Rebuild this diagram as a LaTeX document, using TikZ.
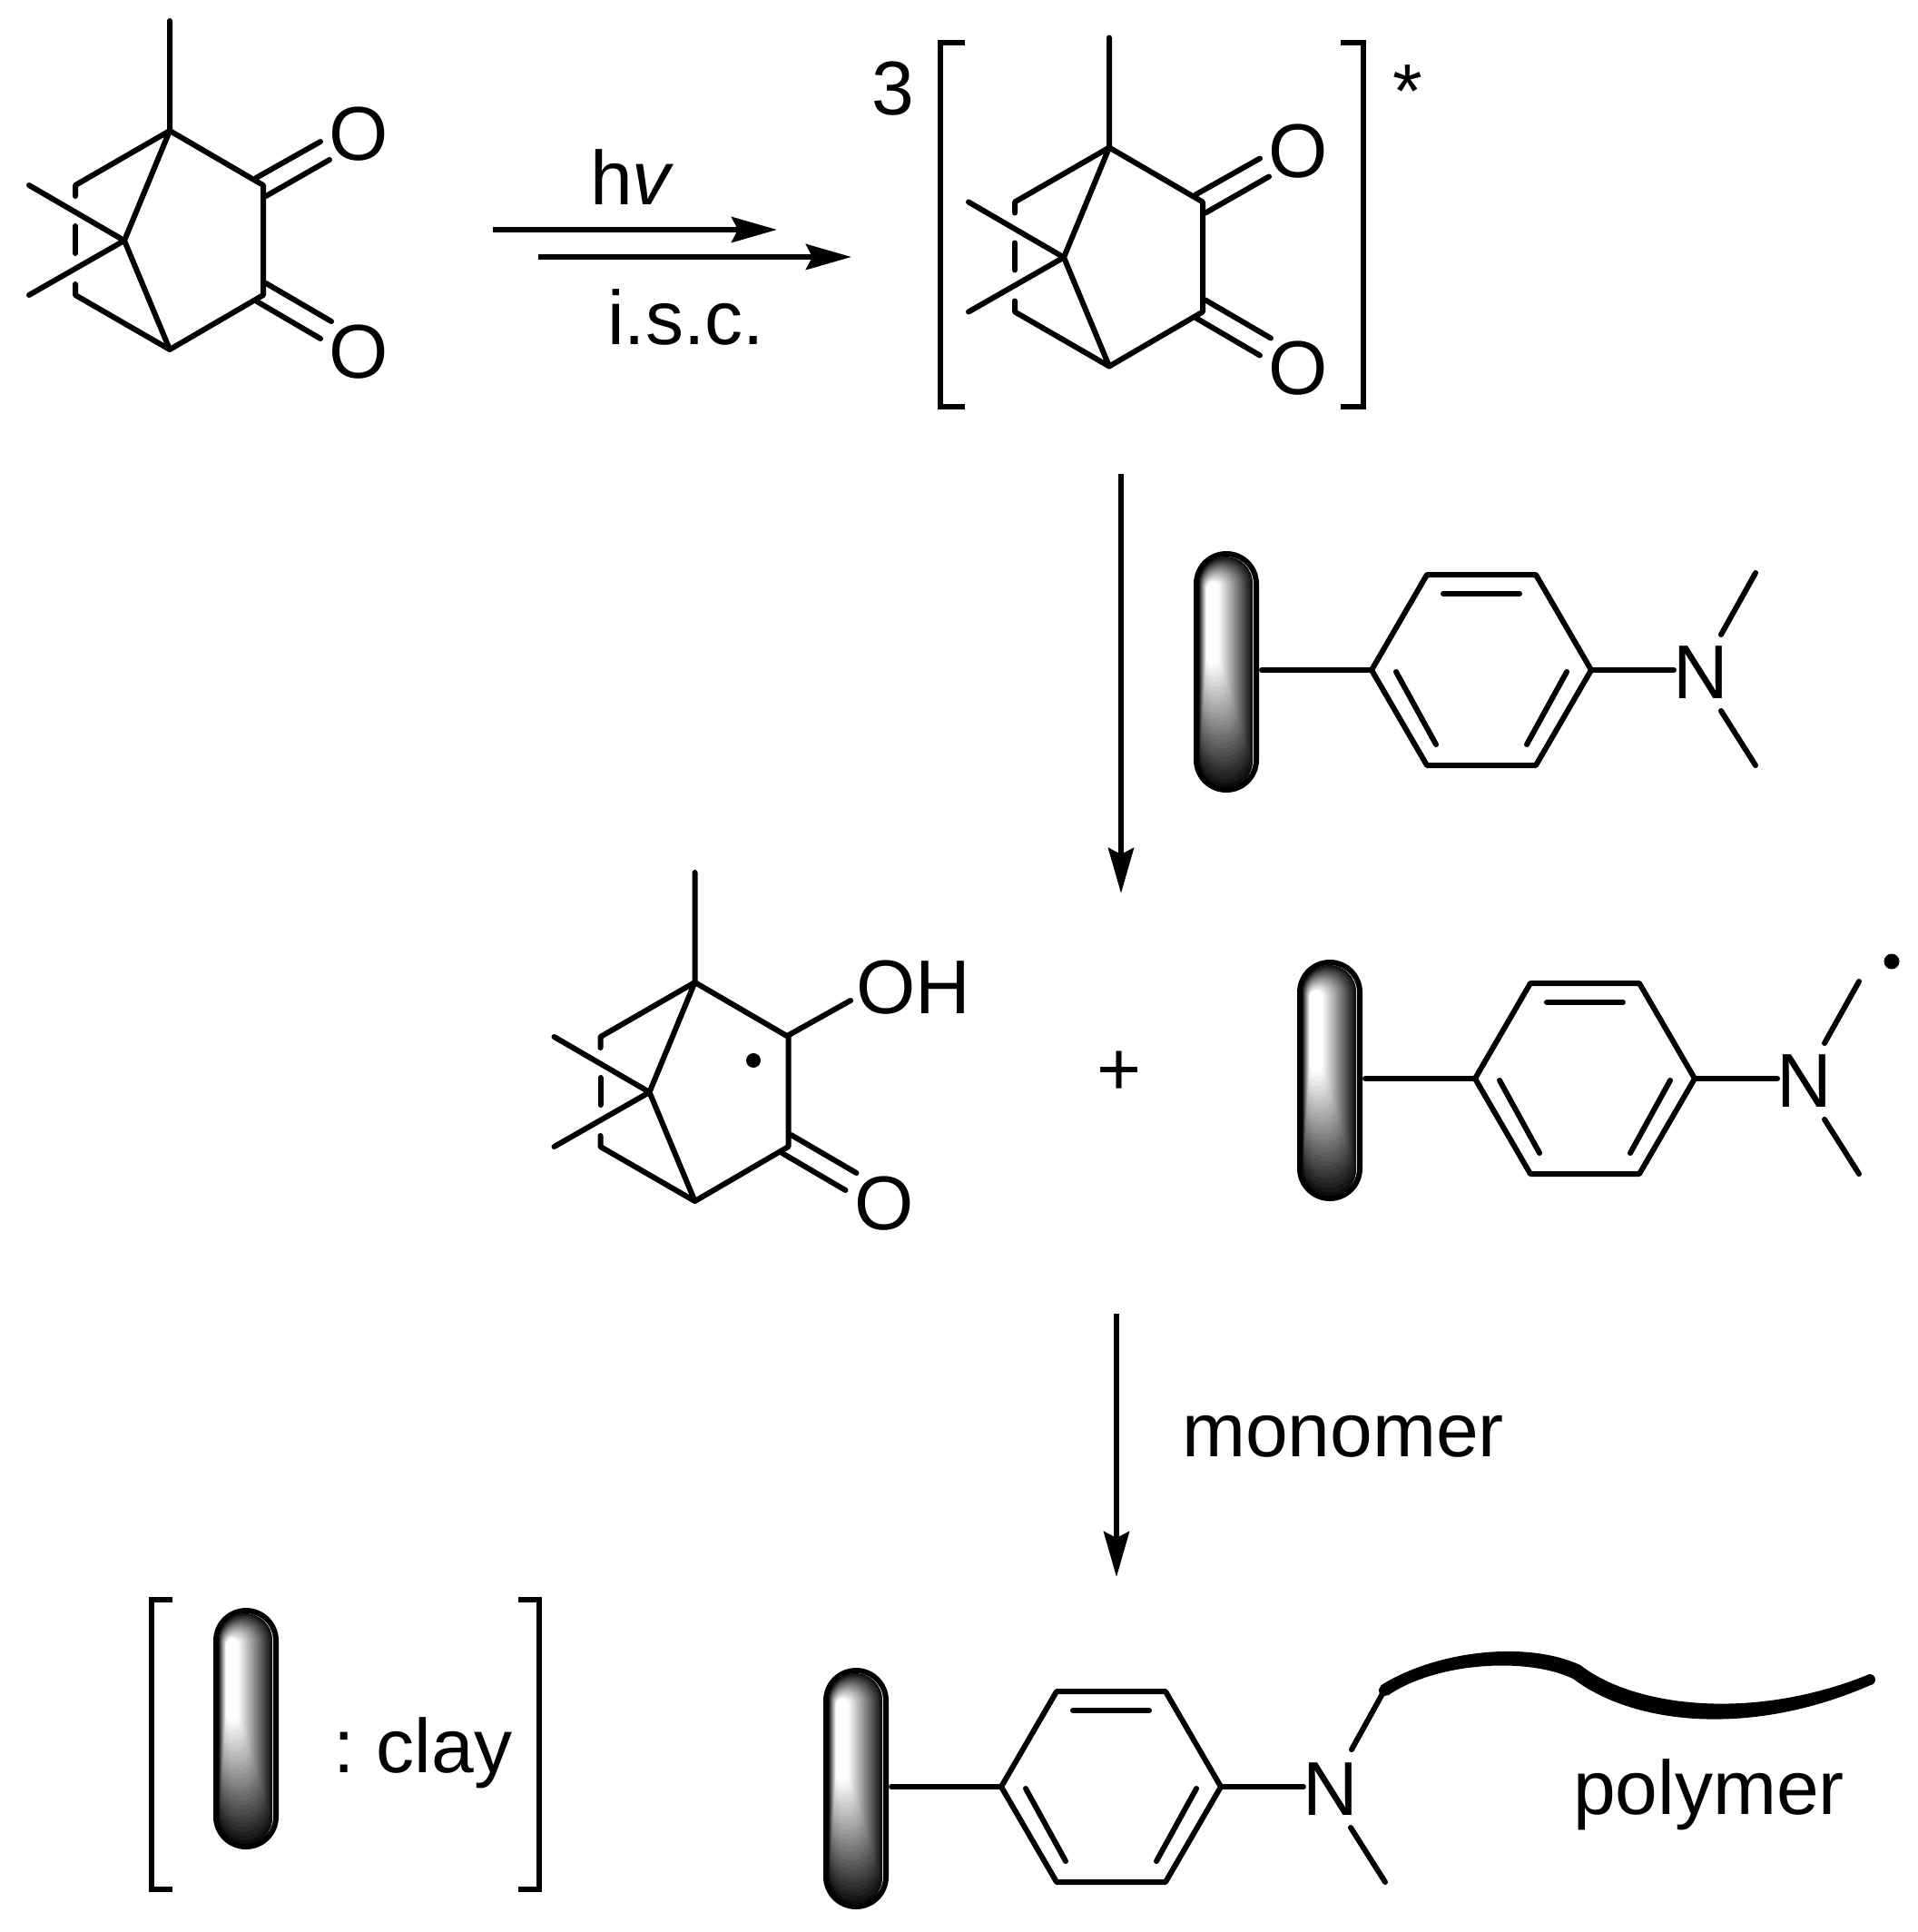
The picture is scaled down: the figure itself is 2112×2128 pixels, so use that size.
\documentclass[tikz,border=0pt]{standalone}
\usepackage{fontspec}
\setmainfont{Liberation Sans}
\usetikzlibrary{arrows.meta}
\tikzset{
  x=1pt,y=-1pt,
  bond/.style={line width=6pt,line cap=round,line join=round},
  rxn/.style={line width=6pt,-{Stealth[length=50pt,width=28pt,inset=7pt]}},
  lbl/.style={inner sep=0pt,font=\fontsize{84}{96}\selectfont},
  brack/.style={line width=6pt,line cap=butt,line join=miter},
  dot/.style={fill=black,circle,minimum size=16pt,inner sep=0pt},
  camphor/.pic={
    \coordinate (c1) at (187,144); \coordinate (me1) at (187,23);
    \coordinate (c2) at (290,204); \coordinate (c3) at (290,325);
    \coordinate (c4) at (187,385); \coordinate (c7) at (137,265);
    \coordinate (me2) at (32,204); \coordinate (me3) at (32,325);
    \coordinate (l1) at (83,204); \coordinate (l2) at (83,325);
    \coordinate (a1) at (83,216); \coordinate (a2) at (83,249);
    \coordinate (a3) at (83,279); \coordinate (a4) at (83,313);
    \coordinate (o3a) at (293,312); \coordinate (o3b) at (365,354);
    \coordinate (o3c) at (283,332); \coordinate (o3d) at (353,373);
    \draw[bond] (me1) -- (c1) -- (c2) -- (c3) -- (c4) -- (l2) -- (a4);
    \draw[bond] (a3) -- (a2);
    \draw[bond] (a1) -- (l1) -- (c1) -- (c7) -- (c4);
    \draw[bond] (me2) -- (c7) -- (me3);
    \draw[bond] (o3a) -- (o3b);
    \draw[bond] (o3c) -- (o3d);
    \node[lbl] (olow) at (395.5,387.5) {O};
  },
  upoxo/.pic={
    \coordinate (a) at (282,196); \coordinate (b) at (353,156);
    \coordinate (c) at (293,216); \coordinate (d) at (363,176);
    \draw[bond] (a) -- (b);
    \draw[bond] (c) -- (d);
    \node[lbl] (oup) at (395.5,148) {O};
  },
  claypill/.pic={
    \foreach \i in {0,...,28}{
      \pgfmathsetmacro{\t}{\i/28}
      \pgfmathsetmacro{\xl}{6+\t*8}
      \pgfmathsetmacro{\xr}{65-\t*37}
      \pgfmathsetmacro{\yt}{6+\t*28}
      \pgfmathsetmacro{\yb}{261-\t*136}
      \pgfmathsetmacro{\rr}{(\xr-\xl)/2}
      \pgfmathsetmacro{\g}{5+95*(\t^0.95)}
      \fill[fill=white!\g!black,rounded corners=\rr pt] (\xl,\yt) rectangle (\xr,\yb);
    }
    \draw[line width=6pt,rounded corners=33pt] (3,3) rectangle (69,263);
  },
  amine/.pic={
    \pic at (-196,-131) {claypill};
    \coordinate (s) at (-121,0);
    \coordinate (h1) at (0,0); \coordinate (h2) at (61,-105);
    \coordinate (h3) at (181,-105); \coordinate (h4) at (242,0);
    \coordinate (h5) at (181,105); \coordinate (h6) at (61,105);
    \coordinate (i1) at (79,-84); \coordinate (i2) at (163,-84);
    \coordinate (i3) at (27,2); \coordinate (i4) at (71,82);
    \coordinate (i5) at (215,2); \coordinate (i6) at (171,82);
    \coordinate (nb) at (333,0);
    \node[lbl] (nit) at (363,3) {N};
    \draw[bond] (s) -- (h1);
    \draw[bond] (h1) -- (h2) -- (h3) -- (h4) -- (h5) -- (h6) -- cycle;
    \draw[bond] (i1) -- (i2);
    \draw[bond] (i3) -- (i4);
    \draw[bond] (i5) -- (i6);
    \draw[bond] (h4) -- (nb);
  },
  nme/.pic={
    \coordinate (p) at (385,-39); \coordinate (q) at (423,-107);
    \draw[bond] (p) -- (q);
  },
  nmelow/.pic={
    \coordinate (p) at (385,45); \coordinate (q) at (423,105);
    \draw[bond] (p) -- (q);
  },
}
\begin{document}
\begin{tikzpicture}
\useasboundingbox (0,0) rectangle (2112,2128);
% reactant
\pic at (0,0) {camphor};
\pic at (0,0) {upoxo};
% excited state
\pic at (1035,18.5) {camphor};
\pic at (1035,18.5) {upoxo};
\coordinate (bl1) at (1063,47); \coordinate (bl2) at (1036,47);
\coordinate (bl3) at (1036,448); \coordinate (bl4) at (1063,448);
\draw[brack] (bl1) -- (bl2) -- (bl3) -- (bl4);
\coordinate (br1) at (1477,47); \coordinate (br2) at (1502,47);
\coordinate (br3) at (1502,448); \coordinate (br4) at (1477,448);
\draw[brack] (br1) -- (br2) -- (br3) -- (br4);
\node[lbl] (three) at (984,98) {3};
\node[lbl,anchor=base west] (star) at (1534,129) {*};
% first step arrows
\coordinate (a1s) at (543,253); \coordinate (a1e) at (856,253);
\coordinate (a2s) at (593,283); \coordinate (a2e) at (938,283);
\draw[rxn] (a1s) -- (a1e);
\draw[rxn] (a2s) -- (a2e);
\node[lbl,anchor=base west] (hv) at (650,225) {h\textit{v}};
\node[lbl,anchor=base west] (isc) at (669,379) {i.s.c.};
% vertical arrow 1
\coordinate (v1s) at (1235,522); \coordinate (v1e) at (1235,984);
\draw[rxn] (v1s) -- (v1e);
\pic at (1511,738) {amine};
\pic at (1511,738) {nme};
\pic at (1511,738) {nmelow};
% middle row
\pic at (578.5,938) {camphor};
\coordinate (oha) at (869,1140); \coordinate (ohb) at (937,1102);
\draw[bond] (oha) -- (ohb);
\node[lbl,anchor=west] (oh) at (943,1088) {OH};
\node[dot] (rad1) at (830,1168) {};
\node[lbl] (plus) at (1233,1182) {+};
\pic at (1625,1188) {amine};
\pic at (1625,1188) {nme};
\pic at (1625,1188) {nmelow};
\node[dot,minimum size=17pt] (rad2) at (2084,1059) {};
% vertical arrow 2
\coordinate (v2s) at (1230,1447); \coordinate (v2e) at (1230,1737);
\draw[rxn] (v2s) -- (v2e);
\node[lbl,anchor=base west] (mono) at (1302,1604) {monomer};
% legend
\coordinate (lb1) at (190,1762); \coordinate (lb2) at (167,1762);
\coordinate (lb3) at (167,2081); \coordinate (lb4) at (190,2081);
\draw[brack] (lb1) -- (lb2) -- (lb3) -- (lb4);
\coordinate (rb1) at (571,1762); \coordinate (rb2) at (594,1762);
\coordinate (rb3) at (594,2081); \coordinate (rb4) at (571,2081);
\draw[brack] (rb1) -- (rb2) -- (rb3) -- (rb4);
\pic at (235,1771) {claypill};
\node[lbl,anchor=base west] (clay) at (367,1952) {:\hspace{-7pt} clay};
% product
\pic at (1103,1968) {amine};
\pic at (1103,1968) {nmelow};
\coordinate (pa) at (1489,1927); \coordinate (pb) at (1525,1862);
\draw[bond] (pa) -- (pb);
\fill (pb) circle (6pt);
\coordinate (pc2) at (2060,1850);
\fill (pc2) circle (6pt);
\fill (1521,1856.5) .. controls (1580,1819) and (1680,1806) .. (1741,1834)
  .. controls (1800,1880) and (1930,1896) .. (2057,1845)
  -- (2063,1855) .. controls (1930,1914) and (1800,1900) .. (1733,1849)
  .. controls (1680,1824) and (1580,1832) .. (1529,1867.5) -- cycle;
\node[lbl,anchor=base west] (poly) at (1733,1998) {polymer};
\end{tikzpicture}
\end{document}
